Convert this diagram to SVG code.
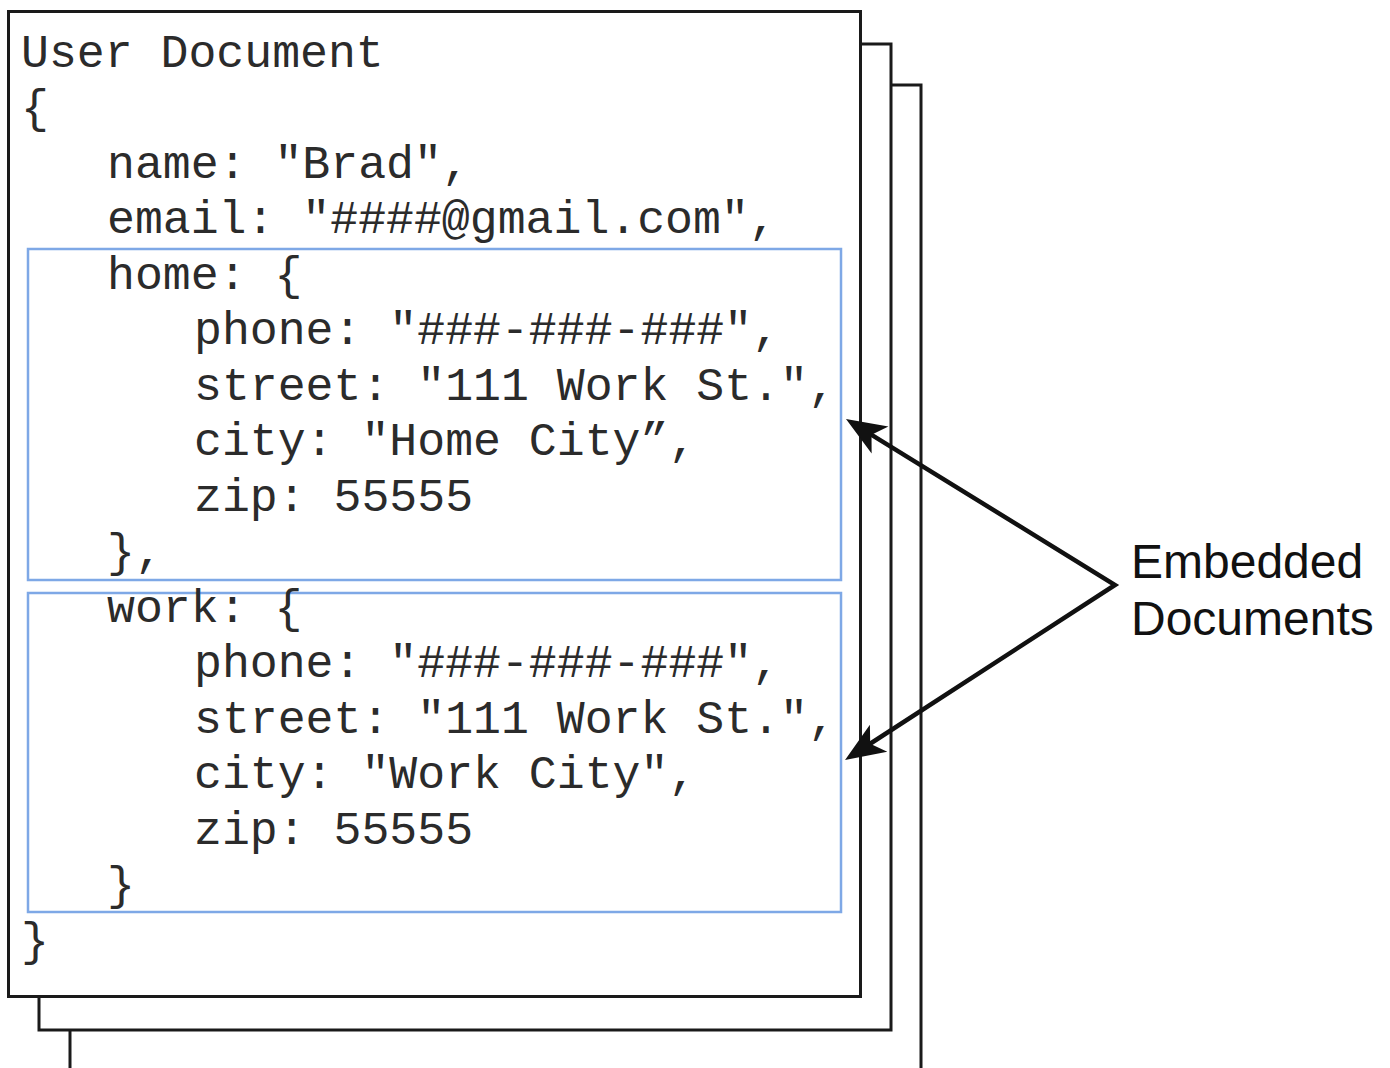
<svg xmlns="http://www.w3.org/2000/svg" width="1390" height="1068" viewBox="0 0 1390 1068">
<style>
.page{fill:#fff;stroke:#1a1a1a;stroke-width:3}
.pl{fill:none;stroke:#1a1a1a;stroke-width:3}
.emb{fill:none;stroke:#7ea8e6;stroke-width:2.5}
.code{font-family:"Liberation Mono","Courier New",monospace;font-size:46.5px;fill:#2b2b2b}
.lbl{font-family:"Liberation Sans",Arial,sans-serif;font-size:48px;fill:#111}
.conn{fill:none;stroke:#111;stroke-width:4.5;stroke-linejoin:miter}
</style>
<defs>
<marker id="ah" markerUnits="userSpaceOnUse" viewBox="-42 -20 46 40" refX="-12" refY="0" markerWidth="46" markerHeight="40" orient="auto-start-reverse">
<path d="M0,0 L-40,-16 L-30,0 L-40,16 Z" fill="#111"/>
</marker>
</defs>
<rect width="1390" height="1068" fill="#fff"/>
<g id="page3">
<path class="pl" d="M891,85 H921 V1068"/>
<path class="pl" d="M70,1030 V1068"/>
</g>
<g id="page2">
<path class="pl" d="M861,44 H891 V1030 H39 V997"/>
</g>
<g id="user-document">
<rect class="page" x="8.5" y="11.5" width="852" height="985"/>
<text class="code" x="21" y="67">User Document</text>
<text class="code" x="21" y="122">{</text>
<text class="code" x="107" y="178">name: "Brad",</text>
<text class="code" x="107" y="233">email: "####@gmail.com",</text>
<text class="code" x="21" y="955">}</text>
</g>
<g id="home-embedded">
<rect class="emb" x="28" y="249" width="813" height="331"/>
<text class="code" x="107" y="289">home: {</text>
<text class="code" x="194" y="344">phone: "###-###-###",</text>
<text class="code" x="194" y="400">street: "111 Work St.",</text>
<text class="code" x="194" y="455">city: "Home City”,</text>
<text class="code" x="194" y="511">zip: 55555</text>
<text class="code" x="107" y="566">},</text>
</g>
<g id="work-embedded">
<rect class="emb" x="28" y="593" width="813" height="319"/>
<text class="code" x="107" y="622">work: {</text>
<text class="code" x="194" y="677">phone: "###-###-###",</text>
<text class="code" x="194" y="733">street: "111 Work St.",</text>
<text class="code" x="194" y="788">city: "Work City",</text>
<text class="code" x="194" y="844">zip: 55555</text>
<text class="code" x="107" y="899">}</text>
</g>
<g id="label">
<text class="lbl" x="1131" y="578">Embedded</text>
<text class="lbl" x="1131" y="635">Documents</text>
</g>
<g id="connectors">
<path class="conn" d="M856.2,425.3 L1115,585 L855.1,753.5" marker-start="url(#ah)" marker-end="url(#ah)"/>
</g>
</svg>
